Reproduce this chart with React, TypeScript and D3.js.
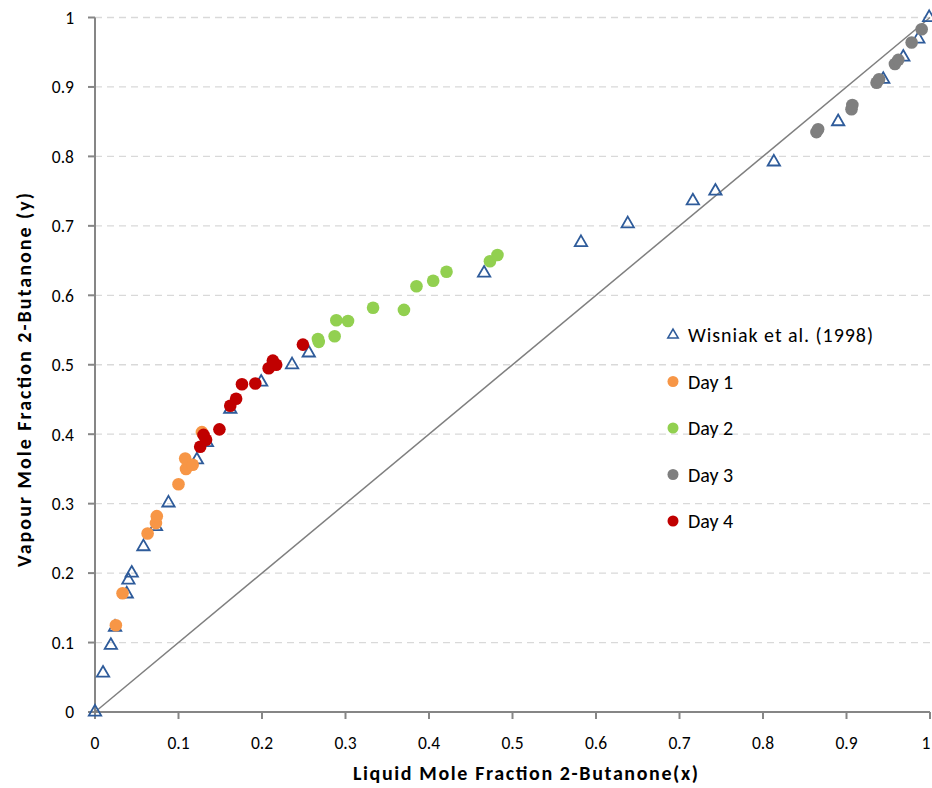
import React from "react";
import * as d3 from "d3";

const wisniakX = [0, 0.0096, 0.019, 0.024, 0.038, 0.040, 0.044, 0.058, 0.073, 0.088, 0.122, 0.134, 0.162, 0.199, 0.236, 0.256, 0.466, 0.582, 0.638, 0.716, 0.743, 0.813, 0.890, 0.944, 0.968, 0.986, 0.999];
const wisniakY = [0, 0.056, 0.096, 0.122, 0.170, 0.190, 0.200, 0.238, 0.267, 0.301, 0.363, 0.388, 0.436, 0.475, 0.500, 0.517, 0.632, 0.676, 0.703, 0.736, 0.750, 0.792, 0.850, 0.911, 0.943, 0.969, 1.0];

const day1X = [0.025, 0.033, 0.063, 0.073, 0.074, 0.100, 0.109, 0.108, 0.117, 0.128];
const day1Y = [0.125, 0.171, 0.257, 0.272, 0.282, 0.328, 0.350, 0.365, 0.356, 0.403];

const day2X = [0.267, 0.268, 0.287, 0.289, 0.303, 0.333, 0.370, 0.385, 0.405, 0.421, 0.473, 0.482];
const day2Y = [0.537, 0.533, 0.541, 0.564, 0.563, 0.582, 0.579, 0.613, 0.621, 0.634, 0.649, 0.658];

const day3X = [0.864, 0.866, 0.906, 0.907, 0.936, 0.939, 0.958, 0.962, 0.978, 0.990];
const day3Y = [0.835, 0.839, 0.868, 0.874, 0.906, 0.911, 0.933, 0.939, 0.964, 0.983];

const day4X = [0.126, 0.130, 0.133, 0.149, 0.162, 0.169, 0.176, 0.192, 0.208, 0.213, 0.217, 0.249];
const day4Y = [0.382, 0.399, 0.392, 0.407, 0.441, 0.451, 0.472, 0.473, 0.495, 0.506, 0.500, 0.529];

const ticks = [0, 0.1, 0.2, 0.3, 0.4, 0.5, 0.6, 0.7, 0.8, 0.9, 1];
const tickLabels = ["0", "0.1", "0.2", "0.3", "0.4", "0.5", "0.6", "0.7", "0.8", "0.9", "1"];

const legendLabels = ["Wisniak et al. (1998)", "Day 1", "Day 2", "Day 3", "Day 4"];
const colors = { wisniak: "#2e5b9a", day1: "#f79646", day2: "#92d050", day3: "#7f7f7f", day4: "#c00000" };

const FONT = "Carlito, Calibri, Lato, 'Open Sans', sans-serif";

export default function App() {
  const W = 932, H = 788;
  const x = d3.scaleLinear().domain([0, 1]).range([95, 930]);
  const y = d3.scaleLinear().domain([0, 1]).range([712, 17.5]);
  const tri = d3.symbol().type(d3.symbolTriangle).size(66)();
  const triLeg = d3.symbol().type(d3.symbolTriangle).size(46)();

  const dayData = [
    { xs: day1X, ys: day1Y, c: colors.day1 },
    { xs: day2X, ys: day2Y, c: colors.day2 },
    { xs: day3X, ys: day3Y, c: colors.day3 },
    { xs: day4X, ys: day4Y, c: colors.day4 },
  ];
  const legendColors = [colors.wisniak, colors.day1, colors.day2, colors.day3, colors.day4];
  const legendY = d3.scaleLinear().domain([0, 4]).range([335, 521]);

  return (
    <svg width={W} height={H} style={{ position: "absolute", left: 0, top: 0, background: "#fff" }} fontFamily={FONT}>
      {ticks.slice(1).map((t) => (
        <line key={"g" + t} x1={x(0)} x2={x(1)} y1={y(t)} y2={y(t)} stroke="#d9d9d9" strokeWidth={1.3} strokeDasharray="7,5" />
      ))}
      {/* axes */}
      <line x1={x(0)} x2={x(0)} y1={y(0)} y2={y(1)} stroke="#868686" strokeWidth={2} />
      <line x1={x(0)} x2={x(1)} y1={y(0)} y2={y(0)} stroke="#868686" strokeWidth={2} />
      {ticks.map((t, i) => (
        <g key={"yt" + t}>
          <line x1={x(0) - 7} x2={x(0)} y1={y(t)} y2={y(t)} stroke="#868686" strokeWidth={2} />
          <text x={74} y={y(t)} dy="0.36em" textAnchor="end" fontSize={17.5} fill="#000">{tickLabels[i]}</text>
        </g>
      ))}
      {ticks.map((t, i) => (
        <g key={"xt" + t}>
          <line x1={x(t)} x2={x(t)} y1={y(0)} y2={y(0) + 7} stroke="#868686" strokeWidth={2} />
          <text x={Math.min(x(t), 926)} y={743} dy="0.36em" textAnchor="middle" fontSize={17.5} fill="#000">{tickLabels[i]}</text>
        </g>
      ))}
      {/* diagonal */}
      <line x1={x(0)} y1={y(0)} x2={x(1)} y2={y(1)} stroke="#7f7f7f" strokeWidth={1.5} />
      {/* wisniak */}
      {wisniakX.map((v, i) => (
        <path key={"w" + i} d={tri!} transform={`translate(${x(v)},${y(wisniakY[i])})`} fill="none" stroke={colors.wisniak} strokeWidth={1.8} />
      ))}
      {dayData.map((s, si) =>
        s.xs.map((v, i) => <circle key={"d" + si + "-" + i} cx={x(v)} cy={y(s.ys[i])} r={6.3} fill={s.c} />)
      )}
      {/* legend */}
      {legendLabels.map((lab, i) => (
        <g key={"l" + i} transform={`translate(673,${legendY(i)})`}>
          {i === 0 ? (
            <path d={triLeg!} fill="none" stroke={colors.wisniak} strokeWidth={1.6} />
          ) : (
            <circle r={5.5} fill={legendColors[i]} />
          )}
          <text x={15} y={7} fontSize={20} fill="#000" textLength={i === 0 ? 185 : undefined} lengthAdjust="spacing">{lab}</text>
        </g>
      ))}
      {/* axis titles */}
      <text x={525.5} y={780} textAnchor="middle" fontSize={20} fontWeight="bold" fill="#000" textLength={345} lengthAdjust="spacing">Liquid Mole Fraction 2-Butanone(x)</text>
      <text transform="translate(31,380) rotate(-90)" textAnchor="middle" fontSize={20} fontWeight="bold" fill="#000" textLength={374} lengthAdjust="spacing">Vapour Mole Fraction 2-Butanone (y)</text>
    </svg>
  );
}
